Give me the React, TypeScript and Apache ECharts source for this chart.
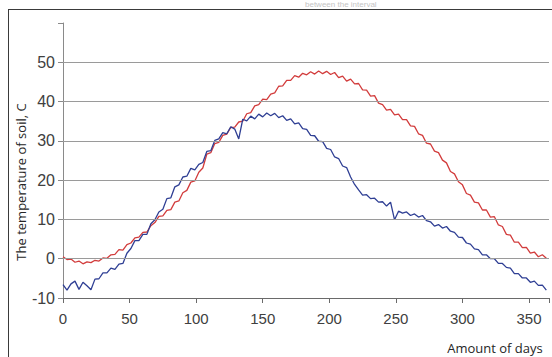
import React, { useEffect, useRef } from "react";
import * as echarts from "echarts";

const yTicks = [-10, 0, 10, 20, 30, 40, 50];
const gridValues = [0, 10, 20, 30, 40, 50];
const xTicks = [0, 50, 100, 150, 200, 250, 300, 350];

const dayStep = 3;

const redSeries = [
  0.5, -0.2, -0.1, -0.9, -0.6, -1.3, -0.8, -1.0, -0.4, -0.6,
  0.2, 0.1, 1.0, 1.1, 2.3, 2.2, 3.6, 4.0, 5.3, 5.5,
  6.7, 6.8, 8.4, 9.2, 10.8, 10.9, 12.3, 12.5, 14.4, 14.7,
  16.8, 17.4, 19.5, 19.8, 22.0, 23.1, 26.6, 27.0, 29.3, 29.6,
  31.4, 31.7, 33.4, 33.5, 34.8, 35.0, 36.9, 37.2, 38.9, 39.2,
  40.6, 40.5, 41.9, 42.2, 43.9, 44.0, 45.4, 45.4, 46.6, 46.2,
  47.2, 46.8, 47.6, 47.0, 47.8, 47.1, 47.7, 46.9, 47.4, 46.1,
  46.5, 45.2, 45.7, 44.5, 44.6, 43.0, 42.9, 41.4, 41.5, 39.6,
  39.2, 37.8, 38.0, 36.6, 36.8, 35.4, 35.4, 33.8, 33.7, 31.8,
  31.4, 29.4, 29.2, 27.4, 27.0, 25.1, 24.4, 22.2, 21.6, 19.6,
  18.8, 16.6, 16.2, 14.4, 14.2, 12.4, 12.4, 10.6, 10.7, 8.6,
  8.2, 6.2, 6.0, 4.2, 4.2, 2.8, 2.9, 1.4, 1.7, 0.5,
  1.0, 0.1,
];

const blueSeries = [
  -6.6, -8.0, -6.4, -5.7, -7.8, -6.0, -6.9, -7.9, -5.2, -5.1,
  -3.6, -3.6, -2.4, -2.7, -1.4, -1.2, 1.4, 2.6, 4.6, 4.6,
  6.2, 6.2, 8.9, 9.9, 11.9, 12.6, 15.3, 15.5, 18.3, 18.8,
  20.8, 21.0, 23.0, 22.6, 24.0, 24.5, 27.3, 27.5, 30.1, 30.5,
  32.1, 31.8, 33.6, 33.0, 30.5, 35.5, 35.1, 36.3, 35.6, 36.8,
  36.1, 37.1, 36.4, 37.0, 35.9, 36.4, 35.2, 35.6, 34.3, 34.6,
  33.1, 32.9, 31.4, 31.3, 29.9, 29.8, 28.1, 27.8, 25.9, 25.5,
  23.6, 23.2, 20.8, 18.9, 17.5, 16.2, 16.3, 15.3, 15.4, 14.4,
  14.5, 13.4, 14.4, 9.9, 12.1, 11.6, 11.9, 11.0, 11.4, 10.6,
  11.0, 9.7, 9.4, 8.3, 8.7, 7.8, 8.2, 7.0, 6.7, 5.5,
  5.4, 4.0, 3.7, 2.5, 2.3, 1.0, 1.0, 0.0, 0.0, -1.2,
  -1.2, -2.2, -2.4, -3.8, -3.8, -4.9, -4.9, -6.0, -5.7, -6.8,
  -6.7, -8.0,
];

const yAxisTitle = "The temperature of soil, C";
const xAxisTitle = "Amount of days";
const topText = "between the interval";

export default function App() {
  const ref = useRef<HTMLDivElement>(null);
  useEffect(() => {
    if (!ref.current) return;
    const chart = echarts.init(ref.current, undefined, { renderer: "svg" });
    const toPairs = (arr: number[]) => arr.map((v, i) => [i * dayStep, v]);
    const labelFont = "Liberation Sans";
    chart.setOption({
      animation: false,
      backgroundColor: "#ffffff",
      grid: { left: 63, right: -4, top: 23, bottom: 59 },
      xAxis: {
        type: "value",
        min: 0,
        max: 365,
        interval: 50,
        axisLine: { onZero: false, lineStyle: { color: "#6a6a6a", width: 1.2 } },
        axisTick: { show: true, length: 5, inside: false, lineStyle: { color: "#6a6a6a" } },
        axisLabel: {
          color: "#404040",
          fontSize: 15,
          fontFamily: labelFont,
          margin: 13,
          formatter: (v: number) => (xTicks.includes(v) ? String(v) : ""),
        },
        splitLine: { show: false },
      },
      yAxis: {
        type: "value",
        min: -10,
        max: 60,
        interval: 10,
        axisLine: { show: true, lineStyle: { color: "#8a8a8a", width: 1 } },
        axisTick: { show: true, length: 5, lineStyle: { color: "#8a8a8a" } },
        axisLabel: {
          color: "#404040",
          fontSize: 16,
          fontFamily: labelFont,
          margin: 8,
          formatter: (v: number) => (yTicks.includes(v) ? String(v) : ""),
        },
        splitLine: { show: false },
      },
      graphic: [
        {
          type: "line",
          shape: { x1: 8, y1: 9.5, x2: 552, y2: 9.5 },
          style: { stroke: "#3a3a3a", lineWidth: 1.2 },
          silent: true,
        },
        {
          type: "line",
          shape: { x1: 8.5, y1: 9.5, x2: 8.5, y2: 357 },
          style: { stroke: "#3a3a3a", lineWidth: 1 },
          silent: true,
        },
        {
          type: "text",
          left: 305,
          top: 0,
          style: { text: topText, fill: "#c4c4c4", font: "8px Liberation Sans" },
          silent: true,
        },
        {
          type: "text",
          x: 21,
          y: 182,
          rotation: Math.PI / 2,
          style: {
            text: yAxisTitle,
            fill: "#262626",
            font: "13px Open Sans",
            align: "center",
            verticalAlign: "middle",
          },
          silent: true,
        },
        {
          type: "text",
          x: 495,
          y: 348,
          style: {
            text: xAxisTitle,
            fill: "#262626",
            font: "13px Open Sans",
            align: "center",
            verticalAlign: "middle",
          },
          silent: true,
        },
      ],
      series: [
        {
          type: "line",
          name: "grid",
          data: [],
          markLine: {
            silent: true,
            symbol: "none",
            label: { show: false },
            lineStyle: { color: "#9a9a9a", type: "solid", width: 1.2 },
            data: gridValues.map((v) => ({ yAxis: v })),
          },
        },
        {
          type: "line",
          name: "red",
          data: toPairs(redSeries),
          showSymbol: false,
          symbol: "none",
          lineStyle: { color: "#d23c3c", width: 1.3 },
          z: 3,
        },
        {
          type: "line",
          name: "blue",
          data: toPairs(blueSeries),
          showSymbol: false,
          symbol: "none",
          lineStyle: { color: "#2f3f94", width: 1.3 },
          z: 4,
        },
      ],
    });
    return () => chart.dispose();
  }, []);
  return (
    <div
      ref={ref}
      style={{ position: "absolute", left: 0, top: 0, width: 552, height: 357 }}
    />
  );
}
